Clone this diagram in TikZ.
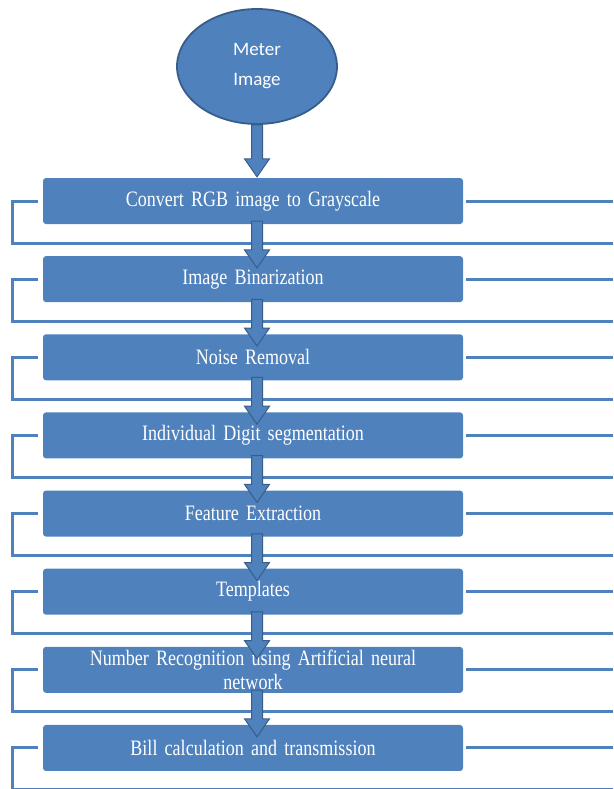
\documentclass[tikz,border=0pt]{standalone}
\usepackage{fontspec}
\usetikzlibrary{shapes.geometric,calc}

\newfontfamily\stepfont[FakeStretch=0.82, WordSpace=1.6]{Liberation Serif}
\newfontfamily\startfont{Carlito}

\definecolor{boxblue}{RGB}{79,129,189}
\definecolor{edgeblue}{RGB}{56,93,138}

% block arrow from one named point down to another
\newcommand{\blockarrow}[2]{%
  \draw[arrowline] ($(#1)+(-5.5,0)$) -- ($(#2)+(-5.5,-18)$) -- ($(#2)+(-12.5,-18)$)
    -- (#2) -- ($(#2)+(12.5,-18)$) -- ($(#2)+(5.5,-18)$) -- ($(#1)+(5.5,0)$) -- cycle;}

\tikzset{
  startnode/.style={ellipse, draw=edgeblue, line width=1.8pt, fill=boxblue,
    minimum width=160pt, minimum height=115pt, inner sep=0pt, text=white,
    align=center, font=\startfont\fontsize{19}{30}\selectfont},
  stepbox/.style={rectangle, rounded corners=3pt, fill=boxblue, draw=none,
    minimum width=420pt, minimum height=46pt, inner sep=0pt, text=white,
    align=center, font=\stepfont\fontsize{22}{24}\selectfont},
  bracket/.style={draw=boxblue, line width=3pt},
  arrowline/.style={draw=edgeblue, line width=1pt, fill=boxblue},
}

\begin{document}
\begin{tikzpicture}[x=1pt, y=-1pt]
    \useasboundingbox (0,0) rectangle (613,789);

    % Meter image (start)
    \node[startnode] (meter) at (257,66.5) {Meter\\Image};

    % Processing steps with their side brackets
    \foreach \i/\txt in {1/{Convert RGB image to Grayscale},
                         2/{Image Binarization},
                         3/{Noise Removal},
                         4/{Individual Digit segmentation},
                         5/{Feature Extraction},
                         6/{Templates},
                         7/{Number Recognition using Artificial neural\\network},
                         8/{Bill calculation and transmission}} {
      \node[stepbox] (s\i) at (253,{201+78.14*(\i-1)}) {\txt};
      \coordinate (lt\i) at (12,{201+78.14*(\i-1)});
      \coordinate (lb\i) at (12,{243+78.14*(\i-1)});
      \coordinate (rb\i) at (613,{243+78.14*(\i-1)});
      \coordinate (rt\i) at (613,{201+78.14*(\i-1)});
      \draw[bracket] ([xshift=-5pt]s\i.west) -- (lt\i) -- (lb\i) -- (rb\i);
      \draw[bracket] ([xshift=3pt]s\i.east) -- (rt\i);
      \path (meter.south |- s\i.south) ++(0,-3) coordinate (out\i);
      \path (meter.south |- s\i.north) ++(0,12) coordinate (in\i);
    }

    % Arrows
    \coordinate (start) at (meter.south);
    \path (meter.south |- s1.north) ++(0,-1) coordinate (first);
    \blockarrow{start}{first}
    \foreach \i [evaluate=\i as \j using int(\i+1)] in {1,...,7} {
      \blockarrow{out\i}{in\j}
    }

  \end{tikzpicture}
\end{document}
